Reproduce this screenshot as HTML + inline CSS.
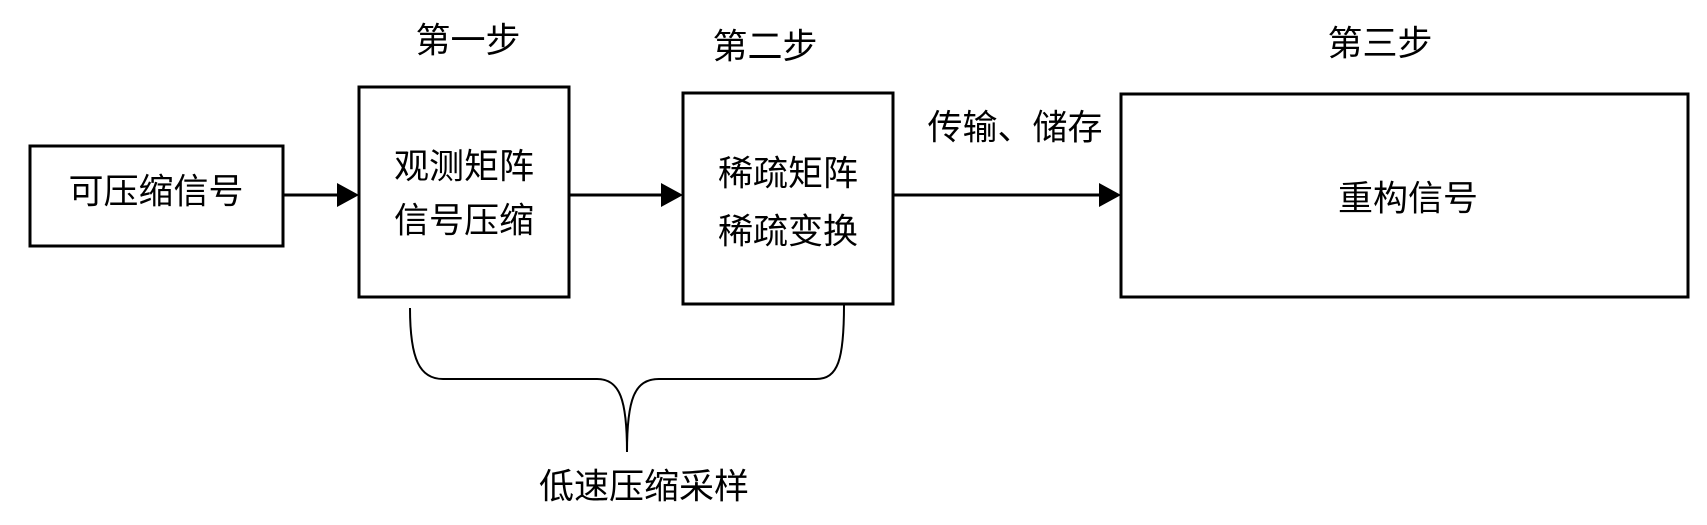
<!DOCTYPE html>
<html><head><meta charset="utf-8"><style>
body{margin:0;background:#fff;}
svg text{font-family:"Liberation Sans","Noto Sans CJK SC",sans-serif;font-size:35px;fill:#000;text-anchor:middle;dominant-baseline:central;}
</style></head><body>
<svg width="1707" height="520" viewBox="0 0 1707 520" xmlns="http://www.w3.org/2000/svg">
<g fill="none" stroke="#000" stroke-width="3">
<rect x="30" y="146" width="253" height="100"/>
<rect x="359" y="87" width="210" height="210"/>
<rect x="683" y="93" width="210" height="211"/>
<rect x="1121" y="94" width="567" height="203"/>
<line x1="283" y1="195" x2="340" y2="195"/>
<line x1="569" y1="195" x2="664" y2="195"/>
<line x1="893" y1="195" x2="1102" y2="195"/>
<path d="M410,308 C410,360 420,379 443,379 L597,379 C620,379 627,400 627,452 C627,400 634,379 659,379 L816,379 C838,379 844,360 844,305" stroke-width="2"/>
</g>
<path d="M337,183 L359,195 L337,207z M661,183 L683,195 L661,207z M1099,183 L1121,195 L1099,207z" fill="#000"/>
<text x="468" y="41">第一步</text>
<text x="765" y="47">第二步</text>
<text x="1380" y="44">第三步</text>
<text x="1015" y="128">传输、储存</text>
<text x="156" y="192">可压缩信号</text>
<text x="464" y="167">观测矩阵</text>
<text x="464" y="221">信号压缩</text>
<text x="788" y="174">稀疏矩阵</text>
<text x="788" y="232">稀疏变换</text>
<text x="1408" y="199">重构信号</text>
<text x="644" y="487">低速压缩采样</text>
</svg>
</body></html>
